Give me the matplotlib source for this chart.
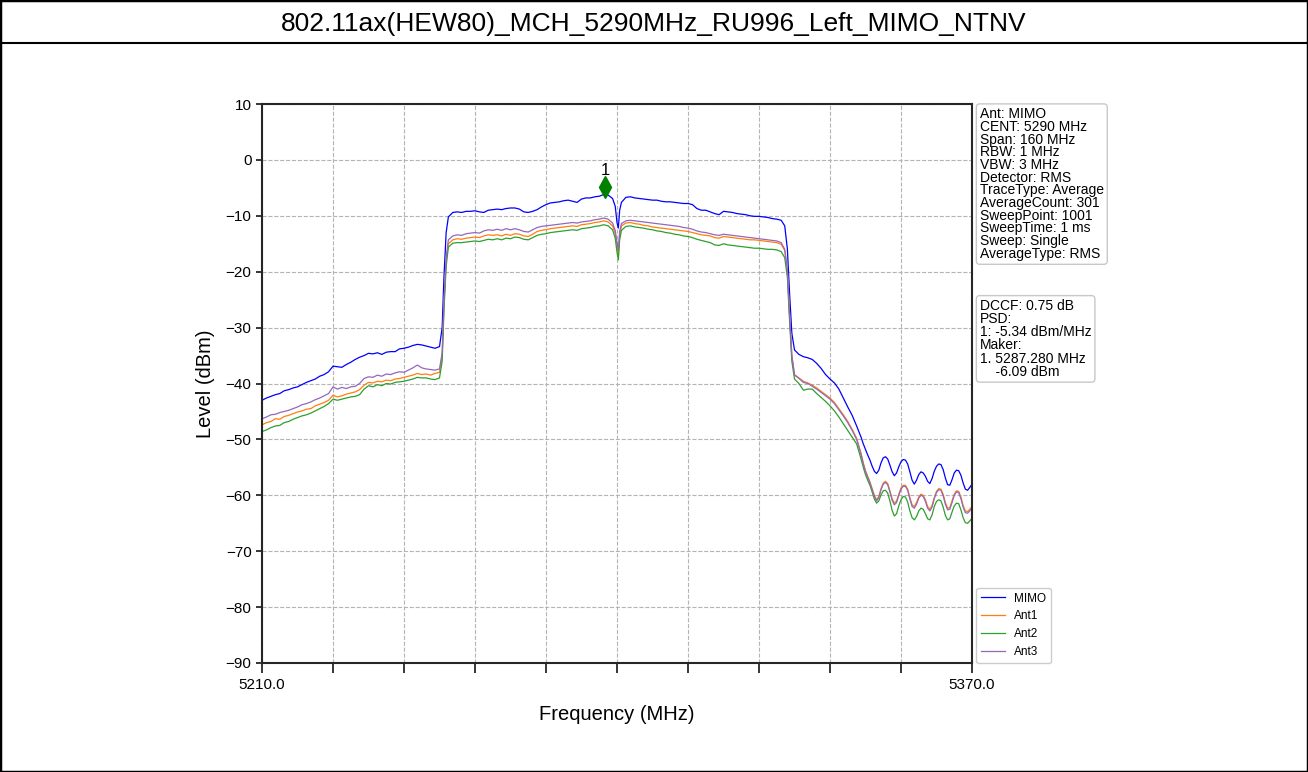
import numpy as np
import matplotlib
matplotlib.use('Agg')
import matplotlib.pyplot as plt
from matplotlib.lines import Line2D
from matplotlib.patches import Rectangle

plt.rcParams['font.family'] = ['Liberation Sans', 'DejaVu Sans']

title = '802.11ax(HEW80)_MCH_5290MHz_RU996_Left_MIMO_NTNV'

# sample grid of the trace (MHz), finer at the band edges, notch and tail
freq = np.concatenate([
    np.arange(5210, 5251),                      # 41
    [5250.6, 5251.0, 5251.5, 5252.0],           # left edge
    np.arange(5253, 5290),                      # 37
    [5289.6, 5290.0, 5290.3, 5290.6],           # centre notch
    np.arange(5291, 5328),                      # 37
    [5327.8, 5328.4, 5328.9, 5329.4, 5330.0],   # right edge
    np.arange(5331, 5345),                      # 14
    np.arange(5345.0, 5370.01, 0.5),            # 51
])

mimo = [
    -43.0, -42.6, -42.3, -42.0, -41.8, -41.3, -41.1, -40.8, -40.6, -40.2,
    -39.8, -39.5, -39.2, -38.7, -38.4, -37.9, -36.9, -37.0, -37.1, -36.6,
    -36.2, -35.7, -35.3, -35.0, -34.6, -34.7, -34.5, -34.8, -34.4, -34.3,
    -34.3, -33.8, -33.7, -33.5, -33.2, -33.0, -33.1, -33.3, -33.5, -33.7,
    -33.4,
    -30.0, -21.0, -13.0, -10.2,
    -9.4, -9.3, -9.4, -9.2, -9.2, -9.1, -9.3, -9.4, -9.0, -8.9,
    -8.8, -8.9, -8.7, -8.6, -8.6, -8.8, -9.3, -9.4, -9.2, -8.9,
    -8.4, -8.0, -7.7, -7.6, -7.5, -7.3, -7.2, -7.4, -7.6, -7.0,
    -6.8, -6.8, -6.6, -6.5, -6.2, -6.3, -6.9,
    -8.3, -11.2, -12.2, -9.0,
    -7.6, -6.7, -6.6, -6.8, -6.9, -7.0, -7.1, -7.2, -7.2, -7.4,
    -7.5, -7.5, -7.6, -7.7, -7.8, -7.8, -8.0, -8.7, -9.0, -9.0,
    -9.3, -9.6, -9.8, -9.2, -9.3, -9.4, -9.6, -9.7, -9.8, -10.0,
    -10.1, -10.1, -10.2, -10.3, -10.5, -10.6, -10.8,
    -11.8, -16.0, -24.0, -31.0, -34.0,
    -34.8, -35.2, -35.4, -35.7, -36.4, -37.3, -38.4, -39.2, -39.9, -41.0,
    -42.6, -44.2, -45.7, -47.6,
    -49.6, -50.8, -51.8, -52.8, -53.7, -54.8, -55.7, -56.1, -55.5, -54.2,
    -53.3, -53.1, -53.5, -54.6, -55.8, -56.5, -56.0, -54.9, -54.0, -53.6,
    -53.7, -54.4, -55.8, -57.3, -58.0, -57.3, -56.3, -55.8, -56.0, -56.6,
    -57.5, -57.9, -57.0, -55.7, -54.8, -54.4, -54.5, -55.4, -56.9, -58.1,
    -58.2, -57.2, -56.0, -55.5, -55.6, -56.4, -57.8, -58.9, -59.1, -58.6,
    -58.0,
]

ant1 = [
    -47.4, -47.0, -46.8, -46.3, -46.4, -45.9, -45.7, -45.4, -45.1, -44.9,
    -44.6, -44.5, -44.0, -43.7, -43.4, -43.0, -42.1, -42.4, -42.2, -41.9,
    -41.7, -41.5, -41.1, -40.3, -39.8, -39.9, -39.6, -39.7, -39.4, -39.5,
    -39.2, -39.1, -38.9, -38.7, -38.5, -38.2, -38.4, -38.3, -38.5, -38.2,
    -38.0,
    -35.0, -26.0, -18.0, -15.0,
    -14.3, -14.1, -14.2, -14.0, -13.9, -13.8, -13.9, -13.6, -13.4, -13.5,
    -13.4, -13.6, -13.3, -13.5, -13.2, -13.3, -13.6, -13.7, -13.3, -12.8,
    -12.6, -12.5, -12.3, -12.2, -12.1, -12.0, -11.9, -11.8, -11.9, -11.6,
    -11.5, -11.4, -11.2, -11.1, -10.9, -11.1, -11.8,
    -13.2, -15.5, -17.0, -13.5,
    -11.8, -11.3, -11.2, -11.4, -11.5, -11.7, -11.8, -12.0, -12.1, -12.2,
    -12.3, -12.4, -12.5, -12.6, -12.7, -12.8, -13.0, -13.2, -13.4, -13.5,
    -13.6, -13.9, -14.0, -13.7, -13.8, -13.9, -14.0, -14.1, -14.2, -14.3,
    -14.3, -14.4, -14.5, -14.6, -14.7, -14.8, -15.1,
    -16.2, -20.0, -28.0, -35.0, -38.4,
    -39.0, -39.6, -39.9, -40.3, -40.8, -41.4, -42.0, -42.6, -43.4, -44.5,
    -45.6, -46.8, -48.2, -49.8,
    -52.5, -54.2, -55.6, -56.6, -57.6, -58.8, -60.0, -60.8, -60.2, -58.8,
    -57.8, -57.5, -57.9, -59.2, -60.6, -61.4, -61.0, -59.8, -58.7, -58.2,
    -58.2, -58.9, -60.4, -61.7, -62.0, -61.3, -60.3, -59.8, -60.0, -60.8,
    -62.0, -62.5, -61.8, -60.4, -59.3, -58.8, -58.9, -59.8, -61.3, -62.3,
    -62.2, -61.0, -59.8, -59.2, -59.3, -60.3, -61.8, -62.8, -62.9, -62.5,
    -62.0,
]

ant2 = [
    -48.6, -48.3, -47.9, -47.6, -47.5, -47.0, -46.8, -46.4, -46.1, -45.8,
    -45.6, -45.3, -44.9, -44.5, -44.1, -43.6, -42.8, -43.0, -42.8, -42.6,
    -42.4, -42.3, -42.0, -41.0, -40.4, -40.6, -40.2, -40.4, -40.0, -40.1,
    -39.8, -39.7, -39.6, -39.4, -39.2, -38.9, -39.0, -39.0, -39.2, -39.3,
    -39.0,
    -36.0, -27.0, -19.0, -15.6,
    -14.9, -14.8, -14.8, -14.7, -14.6, -14.5, -14.6, -14.4, -14.2, -14.3,
    -14.1, -14.3, -14.0, -14.1, -13.8, -13.9, -14.2, -14.3, -13.9, -13.5,
    -13.3, -13.2, -13.0, -12.9, -12.8, -12.7, -12.6, -12.5, -12.6, -12.3,
    -12.2, -12.1, -11.9, -11.8, -11.6, -11.8, -12.5,
    -14.0, -16.5, -17.9, -14.3,
    -12.6, -11.9, -11.8, -12.0, -12.1, -12.2, -12.4, -12.5, -12.7, -12.8,
    -13.0, -13.1, -13.3, -13.4, -13.6, -13.7, -13.9, -14.2, -14.4, -14.6,
    -14.8, -15.2, -15.3, -15.0, -15.2, -15.3, -15.4, -15.5, -15.6, -15.7,
    -15.8, -15.8, -15.9, -16.0, -16.0, -16.1, -16.4,
    -17.5, -21.0, -29.0, -36.0, -39.2,
    -40.0, -41.2, -41.0, -41.0, -41.8, -42.5, -43.2, -44.0, -44.9, -46.0,
    -47.2, -48.4, -49.6, -50.8,
    -53.5, -55.0, -56.3, -57.3, -58.2, -59.4, -60.7, -61.4, -61.0, -59.9,
    -59.2, -59.1, -59.6, -61.0, -62.7, -63.7, -63.3, -61.9, -60.8, -60.2,
    -60.3, -61.2, -62.8, -64.0, -64.4, -63.8, -62.8, -62.3, -62.5, -63.3,
    -64.2, -64.4, -63.5, -62.0, -61.1, -60.8, -61.0, -62.1, -63.6, -64.4,
    -64.2, -63.0, -61.9, -61.4, -61.5, -62.6, -64.0, -64.9, -65.0, -64.6,
    -64.1,
]

ant3 = [
    -46.3, -46.0, -45.6, -45.5, -45.2, -45.0, -44.8, -44.5, -44.2, -43.8,
    -43.6, -43.3, -42.9, -42.6, -42.2, -41.8, -40.6, -41.0, -40.7, -40.9,
    -40.6, -40.5, -40.0, -39.1, -38.8, -38.9, -38.5, -38.7, -38.3, -38.4,
    -38.1, -37.9, -38.0, -37.6, -37.2, -36.7, -37.2, -37.4, -37.5, -37.6,
    -37.4,
    -34.5, -25.5, -17.5, -14.3,
    -13.6, -13.4, -13.5, -13.2, -13.1, -13.0, -13.1, -12.7, -12.5, -12.6,
    -12.4, -12.6, -12.3, -12.5, -12.3, -12.5, -12.8, -12.9, -12.5, -12.1,
    -11.9, -11.8, -11.7, -11.6, -11.5, -11.4, -11.3, -11.2, -11.3, -11.1,
    -11.0, -10.9, -10.7, -10.6, -10.4, -10.6, -11.3,
    -12.6, -14.8, -16.1, -12.8,
    -11.4, -10.9, -10.8, -10.9, -11.0, -11.1, -11.2, -11.3, -11.4, -11.5,
    -11.6, -11.7, -11.8, -11.9, -12.1, -12.2, -12.4, -12.7, -12.9, -13.0,
    -13.2, -13.4, -13.5, -13.3, -13.4, -13.5, -13.6, -13.7, -13.8, -13.9,
    -14.0, -14.1, -14.2, -14.3, -14.4, -14.5, -14.8,
    -16.0, -19.8, -27.8, -35.0, -38.5,
    -39.1, -39.8, -40.0, -40.5, -41.0, -41.6, -42.2, -42.8, -43.6, -44.7,
    -45.8, -47.0, -48.4, -50.0,
    -52.7, -54.4, -55.8, -56.8, -57.8, -59.0, -60.2, -61.0, -60.4, -59.0,
    -58.0, -57.7, -58.1, -59.4, -60.9, -61.7, -61.3, -60.0, -58.9, -58.4,
    -58.4, -59.1, -60.7, -62.0, -62.3, -61.6, -60.5, -60.0, -60.2, -61.1,
    -62.3, -62.8, -62.1, -60.6, -59.5, -59.0, -59.1, -60.1, -61.6, -62.6,
    -62.5, -61.3, -60.0, -59.4, -59.5, -60.6, -62.1, -63.1, -63.2, -62.8,
    -62.3,
]

traces = [('MIMO', mimo, 'blue'), ('Ant1', ant1, '#ff7f0e'),
          ('Ant2', ant2, '#2ca02c'), ('Ant3', ant3, '#9467bd')]

marker_freq = 5287.28
marker_level = -4.8   # where the diamond sits in the picture

info_setup = ['Ant: MIMO', 'CENT: 5290 MHz', 'Span: 160 MHz', 'RBW: 1 MHz',
              'VBW: 3 MHz', 'Detector: RMS', 'TraceType: Average',
              'AverageCount: 301', 'SweepPoint: 1001', 'SweepTime: 1 ms',
              'Sweep: Single', 'AverageType: RMS']
info_result = ['DCCF: 0.75 dB', 'PSD:', '1: -5.34 dBm/MHz', 'Maker:',
               '1. 5287.280 MHz', '    -6.09 dBm']

xticks = np.arange(5210, 5371, 16)
xticklabels = ['5210.0'] + [''] * 9 + ['5370.0']
yticks = np.arange(-90, 11, 10)


def plotData():
    fig = plt.figure(figsize=(13.08, 7.72), dpi=100)

    # outer frame and title band
    fig.add_artist(Rectangle((0, 0), 1, 1, transform=fig.transFigure,
                             fill=False, ec='black', lw=2.5))
    fig.add_artist(Line2D([0, 1], [1 - 43 / 772, 1 - 43 / 772],
                          transform=fig.transFigure, color='black', lw=1.5))
    fig.text(0.5, 1 - 24 / 772, title, ha='center', va='center', fontsize=19)

    ax = fig.add_axes([262 / 1308, 109 / 772, 710 / 1308, 559 / 772])

    for name, vals, col in traces:
        assert len(vals) == len(freq), name
        ax.plot(freq, vals, color=col, lw=0.9, label=name)

    ax.plot(marker_freq, marker_level, marker='d', color='green', ms=11,
            ls='none')
    ax.annotate('1', (marker_freq, marker_level), xytext=(0, 6),
                textcoords='offset points', ha='center', va='bottom',
                fontsize=12)

    ax.set_xlim(5210, 5370)
    ax.set_ylim(-90, 10)
    ax.set_xticks(xticks)
    ax.set_xticklabels(xticklabels)
    ax.set_yticks(yticks)
    ax.tick_params(axis='x', direction='out', length=7, width=1.1,
                   labelsize=11, pad=4)
    ax.tick_params(axis='y', direction='out', length=4, width=1.1,
                   labelsize=11)
    ax.grid(True, ls='--', color='#b4b4b4', lw=0.8)
    for sp in ax.spines.values():
        sp.set_color('#262626')
        sp.set_linewidth(1.5)

    ax.set_xlabel('Frequency (MHz)', fontsize=14.5, labelpad=9)
    ax.set_ylabel('Level (dBm)', fontsize=14.5, labelpad=8)

    box = dict(boxstyle='round,pad=0.25', fc='white', ec='#c8c8c8', lw=1)
    ax.text(1.011, 0.994, '\n'.join(info_setup), transform=ax.transAxes,
            ha='left', va='top', fontsize=10, linespacing=0.88, bbox=box)
    ax.text(1.011, 0.651, '\n'.join(info_result), transform=ax.transAxes,
            ha='left', va='top', fontsize=10, linespacing=0.92, bbox=box)

    ax.legend(loc='lower left', bbox_to_anchor=(1.006, 0.0), borderaxespad=0,
              fontsize=8.5, fancybox=True, framealpha=1, edgecolor='#cccccc')

    fig.savefig('out.png', dpi=100)


if __name__ == '__main__':
    plotData()
